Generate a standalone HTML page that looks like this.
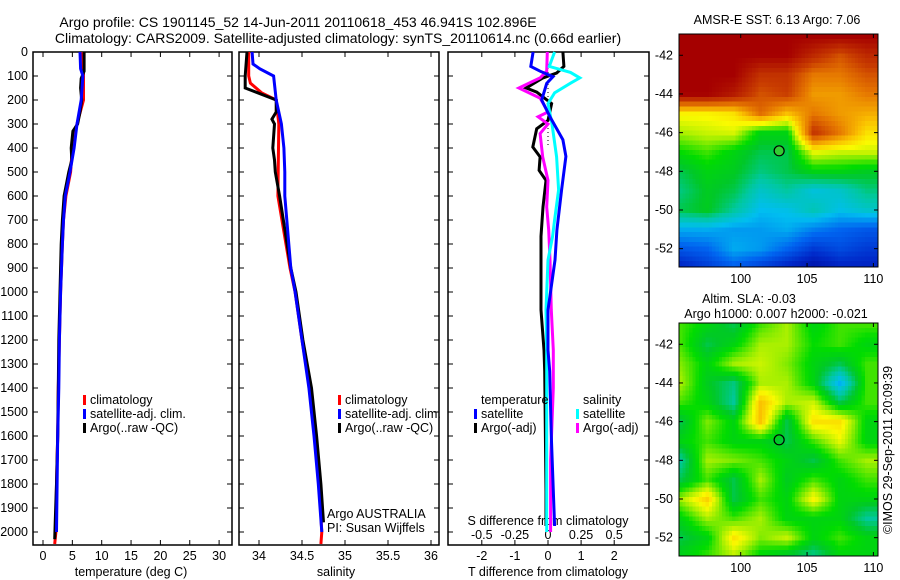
<!DOCTYPE html>
<html><head><meta charset="utf-8"><style>
html,body{margin:0;padding:0;background:#fff;}
svg{display:block;font-family:"Liberation Sans",Arial,sans-serif;}
text{font-size:12.5px;fill:#000;}
</style></head><body>
<svg id="fig" width="900" height="580" viewBox="0 0 900 580" xmlns="http://www.w3.org/2000/svg">
<text x="298" y="27" text-anchor="middle" style="font-size:14px">Argo profile: CS 1901145_52 14-Jun-2011 20110618_453 46.941S 102.896E</text>
<text x="338" y="43" text-anchor="middle" style="font-size:14px">Climatology: CARS2009. Satellite-adjusted climatology: synTS_20110614.nc (0.66d earlier)</text>
<text x="777" y="24" text-anchor="middle">AMSR-E SST: 6.13 Argo: 7.06</text>
<text x="749" y="303" text-anchor="middle">Altim. SLA: -0.03</text>
<text x="776" y="318" text-anchor="middle">Argo h1000: 0.007 h2000: -0.021</text>
<text transform="translate(892,450) rotate(-90)" text-anchor="middle">©IMOS 29-Sep-2011 20:09:39</text>
</svg>
<script>
// ---------- data ----------
const depthTicks=[0,100,200,300,400,500,600,700,800,900,1000,1100,1200,1300,1400,1500,1600,1700,1800,1900,2000];
const tempTicks=[0,5,10,15,20,25,30];
const salTicks=[34,34.5,35,35.5,36];
const tdiffTicks=[-2,-1,0,1,2];
const sdiffTicks=[-0.5,-0.25,0,0.25,0.5];
const sdiffTickLabels=['-0.5','-0.25','0','0.25','0.5'];

const tClimDepth=[0,100,200,300,400,500,600,700,800,1000,1200,1400,1600,1800,2000,2050];
const tClimVal=[6.8,6.9,6.9,5.8,5.0,4.7,3.9,3.5,3.3,3.0,2.8,2.6,2.5,2.3,2.2,2.0];
const tSatDepth=[0,70,100,200,300,400,500,600,700,800,1000,1200,1400,1600,1800,2000];
const tSatVal=[6.3,6.4,6.8,6.5,5.8,5.3,4.6,3.8,3.5,3.3,3.0,2.8,2.7,2.5,2.4,2.3];
const tArgoDepth=[0,80,110,150,200,250,300,330,400,450,500,600,700,800,1000,1200,1400,1600,1800,1950,2030];
const tArgoVal=[7.0,7.0,6.5,6.4,6.6,6.3,5.9,5.1,4.8,4.9,4.4,3.6,3.3,3.1,2.9,2.7,2.6,2.5,2.3,2.1,2.0];

const sClimDepth=[0,100,130,170,200,300,600,900,1000,1200,1400,1600,1800,2000,2050];
const sClimVal=[33.88,33.88,33.9,34.03,34.2,34.23,34.22,34.36,34.42,34.5,34.59,34.65,34.7,34.73,34.72];
const sSatDepth=[0,50,70,100,200,300,400,500,600,900,1000,1200,1400,1600,1800,2000];
const sSatVal=[33.92,33.93,34.01,34.17,34.2,34.26,34.29,34.3,34.3,34.37,34.42,34.5,34.58,34.64,34.69,34.73];
const sArgoDepth=[0,100,150,200,250,280,300,400,450,500,600,900,1000,1200,1400,1600,1800,1960];
const sArgoVal=[33.86,33.84,33.84,34.2,34.2,34.15,34.18,34.16,34.18,34.19,34.24,34.37,34.43,34.51,34.61,34.67,34.72,34.75];

const dTSatDepth=[0,60,80,103,131,200,270,366,435,574,742,867,1075,1242,1330,1600,1975];
const dTSatVal=[-0.45,-0.52,-0.24,0.15,-0.04,-0.19,0.06,0.45,0.54,0.41,0.27,0.21,0.0,0.0,0.05,0.1,0.2];
const dTArgoDepth=[0,60,88,108,150,167,215,285,320,396,437,493,535,646,768,867,1075,1242,1330,1830,1975];
const dTArgoVal=[0.45,0.48,0.26,-0.15,-0.66,-0.34,0.11,0.0,-0.34,-0.46,-0.24,-0.27,-0.06,-0.15,-0.21,-0.21,-0.21,-0.12,-0.1,-0.06,-0.06];
const dSArgoDepth=[0,80,108,150,192,250,270,300,340,437,535,646,742,867,1075,1242,1400,1700,2000];
const dSArgoVal=[-0.005,-0.01,-0.06,-0.22,-0.06,0.0,-0.075,0.0,-0.06,-0.04,0.0,-0.01,0.005,0.015,0.025,0.04,0.04,0.02,0.02];
const dSSatDepth=[0,60,85,108,130,170,215,300,437,574,700,768,867,1075,1242,1400,2000];
const dSSatVal=[0.05,0.01,0.17,0.24,0.17,0.05,0.0,0.03,0.065,0.08,0.05,0.035,0.0,-0.015,-0.01,-0.01,-0.01];

// map fields (lat rows -41..-53, lon cols 95.5..109.5 step 2), normalised colormap values
const mapLats=[-41,-42,-43,-44,-45,-46,-47,-48,-49,-50,-51,-52,-53];
const mapLons=[95.5,97.5,99.5,101.5,103.5,105.5,107.5,109.5];
const sstField=[
[1,1,1,1,1,1,1,1],
[1,1,1,1,1,0.92,0.85,0.92],
[1,1,1,0.9,0.9,0.8,0.8,0.85],
[1,1,0.95,0.85,0.88,0.76,0.76,0.8],
[0.66,0.66,0.68,0.82,0.72,0.8,0.76,0.74],
[0.6,0.62,0.63,0.5,0.5,0.9,0.8,0.68],
[0.52,0.55,0.5,0.45,0.45,0.64,0.62,0.62],
[0.45,0.5,0.48,0.42,0.45,0.5,0.5,0.48],
[0.42,0.48,0.45,0.36,0.4,0.34,0.36,0.42],
[0.45,0.48,0.4,0.32,0.33,0.38,0.33,0.36],
[0.3,0.3,0.28,0.28,0.3,0.25,0.22,0.2],
[0.2,0.22,0.3,0.28,0.22,0.15,0.18,0.15],
[0.1,0.15,0.2,0.15,0.1,0.05,0.1,0.1]];
const slaField=[
[.55,.5,.45,.55,.6,.5,.55,.55],
[.55,.45,.5,.6,.6,.52,.55,.5],
[.58,.5,.6,.62,.58,.5,.45,.55],
[.6,.48,.42,.6,.6,.5,.3,.55],
[.55,.5,.4,.72,.6,.62,.45,.55],
[.45,.58,.5,.72,.45,.68,.68,.5],
[.5,.55,.5,.5,.45,.55,.64,.5],
[.4,.6,.58,.55,.5,.45,.55,.6],
[.45,.55,.45,.6,.48,.55,.5,.55],
[.6,.7,.45,.55,.5,.66,.5,.5],
[.5,.6,.55,.6,.5,.5,.5,.4],
[.45,.5,.68,.58,.62,.5,.55,.5],
[.5,.55,.6,.5,.45,.4,.5,.5]];
const latTicks=[-42,-44,-46,-48,-50,-52];
const lonTicks=[100,105,110];
const argoLon=102.896, argoLat=-46.941;

// ---------- helpers ----------
const NS='http://www.w3.org/2000/svg';
const svg=document.getElementById('fig');
function mk(tag,attrs,parent){const e=document.createElementNS(NS,tag);for(const k in attrs)e.setAttribute(k,attrs[k]);(parent||svg).appendChild(e);return e;}
function txt(x,y,s,anchor,parent){const t=mk('text',{x:x,y:y,'text-anchor':anchor||'middle'},parent);t.textContent=s;return t;}

const Y0=52, YB=545, depthScale=0.24;
const yD=d=>Y0+d*depthScale;
const xT=v=>43+v*5.87;
const xS=v=>259+(v-34)*86;
const xDT=v=>548+v*33.1;
const xDS=v=>548+v*132.4;

function frame(x0,x1,name){
  const r=mk('rect',{x:x0,y:Y0,width:x1-x0,height:YB-Y0,fill:'none',stroke:'#000','stroke-width':1.5});
  
  
  depthTicks.forEach(d=>{
    mk('line',{x1:x0,x2:x0+5,y1:yD(d),y2:yD(d),stroke:'#000'});
    mk('line',{x1:x1-5,x2:x1,y1:yD(d),y2:yD(d),stroke:'#000'});
  });
}
function line(xs,ds,fx,color,name,w){
  const pts=xs.map((v,i)=>fx(v).toFixed(1)+','+yD(ds[i]).toFixed(1)).join(' ');
  const p=mk('polyline',{points:pts,fill:'none',stroke:color,'stroke-width':w||3,'stroke-linejoin':'miter'});
  
  
}
function legend(x,y,color,label,name){
  const g=mk('g',{});
  
  
  mk('rect',{x:x,y:y-9,width:3,height:10,fill:color},g);
  txt(x+7,y,label,'start',g);
}

// ---------- panel 1: temperature ----------
frame(33,232,'temperature-panel-frame');
depthTicks.forEach(d=>{const t=txt(28,yD(d)+4,String(d),'end');});
tempTicks.forEach(v=>{mk('line',{x1:xT(v),x2:xT(v),y1:Y0,y2:Y0+5,stroke:'#000'});mk('line',{x1:xT(v),x2:xT(v),y1:YB-5,y2:YB,stroke:'#000'});const t=txt(xT(v),560,String(v));});
{const t=txt(131,576,'temperature (deg C)');}
line(tClimVal,tClimDepth,xT,'#f00','temperature-climatology-line');
line(tArgoVal,tArgoDepth,xT,'#000','temperature-argo-line');
line(tSatVal,tSatDepth,xT,'#00f','temperature-satellite-line');
legend(83,404,'#f00','climatology','temp-legend-climatology');
legend(83,418,'#00f','satellite-adj. clim.','temp-legend-satellite');
legend(83,432,'#000','Argo(..raw -QC)','temp-legend-argo');

// ---------- panel 2: salinity ----------
frame(239,439,'salinity-panel-frame');
salTicks.forEach(v=>{mk('line',{x1:xS(v),x2:xS(v),y1:Y0,y2:Y0+5,stroke:'#000'});mk('line',{x1:xS(v),x2:xS(v),y1:YB-5,y2:YB,stroke:'#000'});const t=txt(xS(v),560,String(v));});
{const t=txt(336,576,'salinity');}
line(sClimVal,sClimDepth,xS,'#f00','salinity-climatology-line');
line(sArgoVal,sArgoDepth,xS,'#000','salinity-argo-line');
line(sSatVal,sSatDepth,xS,'#00f','salinity-satellite-line');
legend(338,404,'#f00','climatology','sal-legend-climatology');
legend(338,418,'#00f','satellite-adj. clim.','sal-legend-satellite');
legend(338,432,'#000','Argo(..raw -QC)','sal-legend-argo');
{const t=txt(327,518,'Argo AUSTRALIA','start');
 const t2=txt(327,532,'PI: Susan Wijffels','start');}

// ---------- panel 3: differences ----------
frame(448,649,'difference-panel-frame');
mk('line',{x1:548,x2:548,y1:Y0,y2:yD(400),stroke:'#000','stroke-dasharray':'1,3'});
tdiffTicks.forEach(v=>{mk('line',{x1:xDT(v),x2:xDT(v),y1:Y0,y2:Y0+5,stroke:'#000'});const t=txt(xDT(v),560,String(v));});
sdiffTicks.forEach((v,i)=>{mk('line',{x1:xDS(v),x2:xDS(v),y1:YB-5,y2:YB,stroke:'#000'});const t=txt(xDS(v),539,sdiffTickLabels[i]);});
{const t=txt(548,525,'S difference from climatology');
 const t2=txt(548,576,'T difference from climatology');}
line(dTArgoVal,dTArgoDepth,xDT,'#000','tdiff-argo-line');
line(dSArgoVal,dSArgoDepth,xDS,'#f0f','sdiff-argo-line');
line(dSSatVal,dSSatDepth,xDS,'#0ff','sdiff-satellite-line');
line(dTSatVal,dTSatDepth,xDT,'#00f','tdiff-satellite-line');
{const t=txt(481,404,'temperature','start');
 const t2=txt(583,404,'salinity','start');}
legend(474,418,'#00f','satellite','diff-legend-temp-satellite');
legend(474,432,'#000','Argo(-adj)','diff-legend-temp-argo');
legend(576,418,'#0ff','satellite','diff-legend-sal-satellite');
legend(576,432,'#f0f','Argo(-adj)','diff-legend-sal-argo');

// ---------- maps ----------
const cmapStops=[[0,[0,0,140]],[0.12,[0,40,200]],[0.22,[0,100,240]],[0.32,[0,190,240]],[0.4,[0,200,160]],[0.47,[0,200,40]],[0.52,[0,220,0]],[0.6,[170,240,0]],[0.65,[250,250,0]],[0.72,[250,190,0]],[0.8,[230,120,0]],[0.88,[200,60,0]],[1,[165,0,0]]];
function cmap(v){v=Math.max(0,Math.min(1,v));
  for(let k=1;k<cmapStops.length;k++){if(v<=cmapStops[k][0]){const a=cmapStops[k-1],b=cmapStops[k],f=(v-a[0])/(b[0]-a[0]);
    return 'rgb('+a[1].map((c,i)=>Math.round(c+(b[1][i]-c)*f)).join(',')+')';}}
  return 'rgb(165,0,0)';}
function sample(field,lat,lon){
  let fi=(mapLats[0]-lat)/1, fj=(lon-mapLons[0])/2;
  fi=Math.max(0,Math.min(mapLats.length-1.001,fi)); fj=Math.max(0,Math.min(mapLons.length-1.001,fj));
  const i=Math.floor(fi),j=Math.floor(fj),a=fi-i,b=fj-j;
  return field[i][j]*(1-a)*(1-b)+field[i+1][j]*a*(1-b)+field[i][j+1]*(1-a)*b+field[i+1][j+1]*a*b;}
function drawMap(field,top,name,filled){
  const L=679,R=878,H=233,lon0=95.35,lat0=-40.9,px=13.27,py=19.34;
  const g=mk('g',{'shape-rendering':'crispEdges'});
  
  
  const xl=lon=>L+(lon-lon0)*px, yl=lat=>top+(lat0-lat)*py;
  for(let lat=lat0;lat>-53.05;lat-=0.25){for(let lon=lon0;lon<110.35;lon+=0.25){
    const x=xl(lon),y=yl(lat);
    mk('rect',{x:x.toFixed(1),y:y.toFixed(1),width:Math.min(3.6,R-x).toFixed(1),height:Math.min(5.1,top+H-y).toFixed(1),fill:cmap(sample(field,lat-0.12,lon+0.12))},g);
  }}
  mk('rect',{x:L,y:top,width:R-L,height:H,fill:'none',stroke:'#000','stroke-width':1});
  latTicks.forEach(v=>{mk('line',{x1:L,x2:L+4,y1:yl(v),y2:yl(v),stroke:'#000'});mk('line',{x1:R-4,x2:R,y1:yl(v),y2:yl(v),stroke:'#000'});const t=txt(673,yl(v)+4,String(v),'end');});
  lonTicks.forEach(v=>{mk('line',{x1:xl(v),x2:xl(v),y1:top,y2:top+4,stroke:'#000'});mk('line',{x1:xl(v),x2:xl(v),y1:top+H-4,y2:top+H,stroke:'#000'});const t=txt(xl(v),top+H+16,String(v));});
  const c=mk('circle',{cx:xl(argoLon),cy:yl(argoLat),r:5,fill:filled?'#3c3':'none',stroke:'#000','stroke-width':1.2});
  
  
}
drawMap(sstField,34,'sst-map',true);
drawMap(slaField,323,'sla-map',false);
</script>
</body></html>
